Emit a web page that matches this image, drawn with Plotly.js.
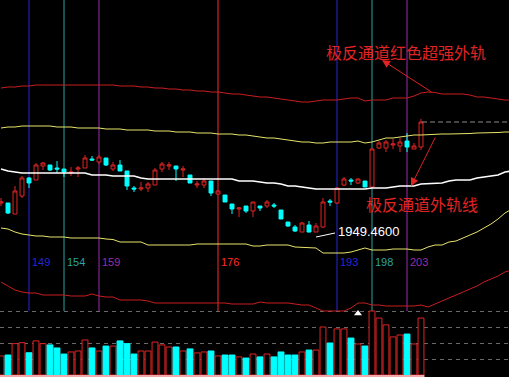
<!DOCTYPE html>
<html><head><meta charset="utf-8">
<script src="https://cdn.plot.ly/plotly-3.0.1.min.js"></script>
<style>html,body{margin:0;padding:0;background:#000;}#c{width:509px;height:377px;}</style>
</head><body><div id="c"></div>
<script>
const firstBar = 145;
const open  = [1979,1979,1968,1986,2004,2002,2016,2017,2014,2013, 2009,2013,2014,2023,2020,2024,2013,2017,2011,1994, 1993,1994,1997,2013,2016,2016,2012,2007,1997,1997, 2001,1988,1987,1978,1973,1976,1971,1976,1976,1977, 1972,1960,1955,1950,1957,1950,1955,1981,1979,1997, 2002,1999,2001,1995,2034,2034,2037,2036,2041,2033, 2035];
const high  = [1984,1979,1996,2006,2005,2019,2020,2017,2021,2013, 2015,2016,2027,2026,2027,2024,2020,2022,2011,1996, 2000,2000,2014,2020,2020,2016,2016,2007,2001,2004, 2001,1992,1987,1978,1975,1976,1980,1976,1982,1979, 1972,1960,1957,1960,1961,1959,1984,1983,1995,2005, 2004,2004,2001,2033,2041,2042,2043,2044,2049,2039, 2063];
const low   = [1976,1968,1968,1984,1994,2002,2012,2011,2009,2005, 2006,2005,2014,2021,2018,2016,2011,2011,1992,1990, 1991,1990,1997,2010,2012,2001,2005,1999,1994,1994, 1986,1987,1980,1968,1965,1969,1965,1971,1974,1974, 1963,1955,1950,1950,1949.46,1950,1954,1976,1978,1996, 1997,1998,1995,1994,2033,2030,2033,2030,2030,2033, 2032];
const close = [1980,1969,1991,2004,1999,2017,2019,2012,2013,2010, 2010,2014,2024,2022,2025,2017,2017,2011,1996,1993, 1994,1998,2012,2018,2017,2013,2013,1999,1998,2001, 1989,1991,1980,1973,1974,1971,1980,1974,1980,1976, 1963,1956,1951,1959,1950,1956,1980,1980,1994,2003, 2001,2003,1995,2033,2039,2040,2038,2040,2035,2036, 2060];
const volume = [1.19,1.25,1.96,2.02,1.39,2.13,1.96,1.88,1.69,1.31, 1.44,1.5,2.19,1.69,1.5,1.81,1.81,2.13,1.96,1.31, 1.5,1.5,2.06,1.88,1.75,1.75,1.5,1.63,1.38,1.44, 1.5,1.19,1.25,1.25,1.13,1.06,1.31,1.13,1.31,1.13, 1.44,1.25,1.25,1.44,1.56,1.56,3.0,2.0,2.88,2.88, 2.31,1.94,1.81,4.0,3.56,3.13,2.38,2.5,2.56,1.94, 3.56];

// channel lines (bars 145..218, projected beyond last candle)
const midLine  = [2013,2011,2010,2009,2009,2009,2009,2009,2009,2009, 2009,2009,2009,2007,2007,2007,2006,2006,2006,2006, 2004,2003,2003,2003,2003,2003,2003,2003,2003,2003, 2003,2003,2003,2003,2001,2001,2001,2000,1999,1999, 1998,1996,1996,1995,1994,1993,1993,1993,1993,1993, 1993,1993,1993,1994,1994,1994,1995,1996,1996,1996, 1998,1998.5,1999,1999,2001,2002,2002,2002,2004,2005, 2005.5,2007,2010,2011];
const upYellow = [2054,2055,2055,2056,2056,2056,2056,2056,2055,2055, 2055,2054,2054,2054,2054,2053,2053,2053,2052,2052, 2052,2052,2051,2051,2051,2050,2050,2050,2049,2049, 2049,2048,2048,2048,2047,2047,2046,2045,2044,2044, 2043,2042,2041,2040,2040,2039,2039,2040,2040,2040, 2040,2041,2039,2040,2042,2044,2044,2045,2046,2047, 2047,2047.5,2048,2048,2048,2048,2048,2048.5,2049,2049, 2049,2049.5,2050,2050];
const loYellow = [1954,1953,1950,1948,1947,1946,1946,1945,1945,1945, 1944,1944,1944,1944,1944,1943,1942.5,1940,1940,1940, 1940,1937,1937,1937,1937,1937,1937,1937,1938,1938, 1938,1938,1938,1938,1938,1938,1936,1936,1937,1937, 1937,1937,1935,1934.5,1934,1934,1929,1929,1929,1929, 1930,1932,1934,1932,1932,1932,1933,1933,1933,1932, 1932,1935,1937,1937,1940,1941,1944,1947,1950,1954, 1958,1963,1969,1973];
const upRed    = [2094,2095,2095,2096,2096,2097,2097,2097,2097,2097, 2097,2097,2097,2097,2097,2097,2097,2096,2096,2096, 2095,2095,2094,2094,2093,2093,2092,2092,2091,2091, 2090,2090,2089,2088,2088,2087,2086,2085,2085,2084, 2083,2082,2081,2080,2080,2081,2082,2082,2082,2083, 2084,2084,2081,2082,2082,2082,2084,2084,2084,2086, 2089,2090,2089.5,2088,2088,2088,2088,2087,2085,2085, 2084,2083.5,2082,2082];
const loRed    = [1900,1896,1892,1890,1889,1889,1887,1887,1887,1887, 1886,1886,1886,1888,1886,1885,1885,1882,1882,1882, 1882,1881,1879,1879,1879,1879,1879,1879,1879,1879, 1879,1879,1879,1878,1878,1878,1878,1880,1879,1879, 1879,1879,1878,1877,1877,1874,1871,1871,1871,1871, 1874,1879,1879,1877,1877,1876,1876,1876,1876,1876, 1877,1875,1878,1881,1884,1887,1890,1893,1896,1900, 1903,1906,1910,1912];

const markedBars = [149,154,159,176,193,198,203];
const markColors = ['#2626d8','#2aa3a3','#9a2ca8','#ff2a2a','#2626d8','#2aa3a3','#9a2ca8'];
const lowLabel = '1949.4600';
const note1 = '极反通道红色超强外轨';
const note2 = '极反通道外轨线';

const bars = open.map((_, i) => firstBar + i);
const lineBars = midLine.map((_, i) => firstBar + i);
const isUp = bars.map((_, i) => close[i] >= open[i]);
const RED = '#e02424', CYAN = '#00ffff';

const traces = [
  {type:'scatter', mode:'lines', x:lineBars, y:upRed, line:{color:'#c81e1e', width:1}, hoverinfo:'skip'},
  {type:'scatter', mode:'lines', x:lineBars, y:loRed, line:{color:'#c81e1e', width:1}, hoverinfo:'skip'},
  {type:'scatter', mode:'lines', x:lineBars, y:upYellow, line:{color:'#e8e46a', width:1}, hoverinfo:'skip'},
  {type:'scatter', mode:'lines', x:lineBars, y:loYellow, line:{color:'#e8e46a', width:1}, hoverinfo:'skip'},
  {type:'scatter', mode:'lines', x:lineBars, y:midLine, line:{color:'#ffffff', width:1.6}, hoverinfo:'skip'},
  {type:'bar', x:bars, y:volume, yaxis:'y2', width:0.84,
   marker:{color:isUp.map(u => u ? '#000000' : CYAN), line:{color:isUp.map(u => u ? RED : CYAN), width:1}},
   hoverinfo:'skip'},
  {type:'candlestick', x:bars, open:open, high:high, low:low, close:close,
   increasing:{line:{color:RED, width:1}, fillcolor:'#000000'},
   decreasing:{line:{color:CYAN, width:1}, fillcolor:CYAN},
   whiskerwidth:0, hoverinfo:'skip'},
  {type:'scatter', mode:'markers', x:[196], y:[3.85], yaxis:'y2',
   marker:{symbol:'triangle-up', size:7, color:'#ffffff'}, hoverinfo:'skip'}
];

const shapes = markedBars.map((b, i) => ({type:'line', xref:'x', yref:'paper', x0:b, x1:b, y0:0.175, y1:1,
  line:{color:markColors[i], width:1}, layer:'below'}));
shapes.push({type:'line', xref:'x', yref:'y', x0:bars[bars.length-1]+0.15, x1:218, y0:close[close.length-1], y1:close[close.length-1],
  line:{color:'#8c8c8c', width:1, dash:'5px,3px'}});
shapes.push({type:'line', xref:'x', yref:'y2', x0:firstBar-0.5, x1:bars[bars.length-1]+0.5, y0:-0.06, y1:-0.06,
  line:{color:'#f0a8a8', width:2}});
shapes.push({type:'line', xref:'paper', yref:'paper', x0:316/509, y0:1-237/377, x1:335/509, y1:1-233/377,
  line:{color:'#ffffff', width:1}});

const annotations = markedBars.map((b, i) => ({xref:'x', yref:'y', x:b+0.2, y:1920, text:String(b), showarrow:false,
  xanchor:'left', yanchor:'middle', font:{family:'Liberation Sans, Arial', size:11, color:markColors[i]}}));
annotations.push({xref:'paper', yref:'paper', x:336/509, y:1-231/377, text:lowLabel, showarrow:false,
  xanchor:'left', yanchor:'middle', font:{family:'Liberation Sans, Arial', size:13, color:'#ffffff'}});
annotations.push({xref:'paper', yref:'paper', x:406/509, y:1-52/377, text:note1, showarrow:false,
  xanchor:'center', yanchor:'middle', font:{family:'Noto Sans CJK SC', size:16, color:RED}});
annotations.push({xref:'paper', yref:'paper', x:422/509, y:1-204/377, text:note2, showarrow:false,
  xanchor:'center', yanchor:'middle', font:{family:'Noto Sans CJK SC', size:16, color:RED}});
annotations.push({xref:'paper', yref:'paper', x:382/509, y:1-60/377, ax:51, ay:33, text:'', showarrow:true,
  arrowhead:2, arrowsize:1.6, arrowwidth:1, arrowcolor:RED, standoff:0});
annotations.push({xref:'paper', yref:'paper', x:411/509, y:1-186/377, ax:25, ay:-50, text:'', showarrow:true,
  arrowhead:2, arrowsize:1.6, arrowwidth:1, arrowcolor:RED, standoff:0});

const layout = {
  width:509, height:377, margin:{l:0, r:0, t:0, b:0},
  paper_bgcolor:'#000000', plot_bgcolor:'#000000',
  showlegend:false, boxgap:0.2,
  xaxis:{range:[144.857, 217.571], visible:false, showgrid:false, zeroline:false, rangeslider:{visible:false}, fixedrange:true},
  yaxis:{range:[1805, 2182], visible:false, showgrid:false, zeroline:false},
  yaxis2:{range:[-0.125, 23.4375], overlaying:'y', showticklabels:false, showline:false, zeroline:false, ticks:'',
    tickvals:[1,2,3,4], showgrid:true, gridcolor:'#6a6a6a', griddash:'4px,4px', gridwidth:1},
  shapes:shapes, annotations:annotations
};
Plotly.newPlot('c', traces, layout, {staticPlot:true, displayModeBar:false});
</script></body></html>
